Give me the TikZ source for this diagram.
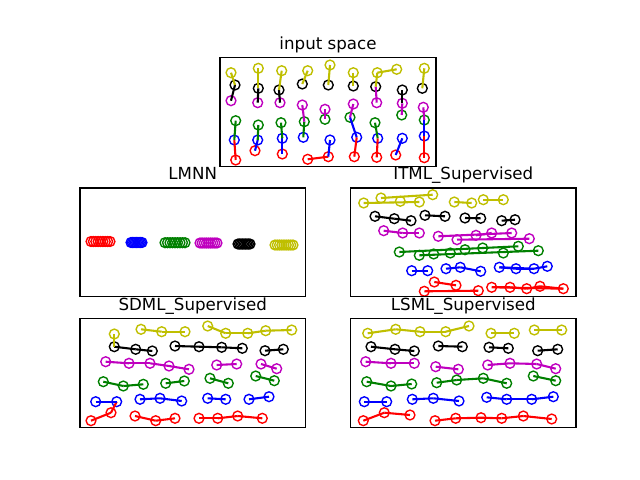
\documentclass[tikz,border=0pt]{standalone}
\usepackage{fontspec}
\setmainfont{DejaVu Sans}
\definecolor{cr}{rgb}{1,0,0}
\definecolor{cb}{rgb}{0,0,1}
\definecolor{cg}{rgb}{0,0.5,0}
\definecolor{cm}{rgb}{0.75,0,0.75}
\definecolor{ck}{rgb}{0,0,0}
\definecolor{cy}{rgb}{0.75,0.75,0}
\begin{document}
\begin{tikzpicture}[x=0.72pt,y=-0.72pt,
  pt/.style={circle,draw=#1,line width=1pt,minimum size=7.07pt,inner sep=0pt,outer sep=0pt},
  ln/.style={line width=1.5pt,draw=#1},
  axframe/.style={draw=black,line width=0.8pt},
  ttl/.style={anchor=base,font=\fontsize{12}{14}\selectfont}]
\path[use as bounding box] (0,0) rectangle (640,480);

% ---------------- input space ----------------
\foreach \n/\x/\y in {iY1/231/72.7,iY2/258.3/68.3,iY3/281.7/70.7,iY4/307.7/70.7,iY5/330/65,iY6/353.3/72.7,iY7/377.3/72.7,iY8/396.7/69.3,iY9/424.3/68.3}
  \node[pt=cy] (\n) at (\x,\y) {};
\foreach \n/\x/\y in {iK1/235/85,iK2/258.3/88.3,iK3/279/90,iK4/302.3/84,iK5/328.3/85,iK6/353.3/86,iK7/375.7/86.7,iK8/402.3/90,iK9/422.3/88.3}
  \node[pt=ck] (\n) at (\x,\y) {};
\foreach \n/\x/\y in {iM1/231/100.7,iM2/257.7/102.7,iM3/280/102.7,iM4/302.3/105,iM5/325/109.3,iM6/353.3/104,iM7/376.7/102.7,iM8/402.3/103.3,iM9/423.3/107.3}
  \node[pt=cm] (\n) at (\x,\y) {};
\foreach \n/\x/\y in {iG1/235.7/120.7,iG2/258.3/125,iG3/281/122.7,iG4/304.3/121.7,iG5/325/119.3,iG6/350/117.3,iG7/375/122.7,iG8/401.7/115,iG9/424.3/120}
  \node[pt=cg] (\n) at (\x,\y) {};
\foreach \n/\x/\y in {iB1/234.3/140,iB2/257.7/140,iB3/282.3/138.3,iB4/303.3/137.3,iB5/330/140,iB6/356.7/137.3,iB7/377.7/138.3,iB8/402.3/138.3,iB9/424.3/136}
  \node[pt=cb] (\n) at (\x,\y) {};
\foreach \n/\x/\y in {iR1/235.7/160,iR2/255/150.7,iR3/282.3/154,iR4/307.7/159.3,iR5/328.3/156.7,iR6/354.3/156.7,iR7/376.7/157.3,iR8/395.7/155,iR9/424.3/157.7}
  \node[pt=cr] (\n) at (\x,\y) {};
\foreach \a/\b in {iR1/iB1,iR4/iR5,iR6/iB6,iR7/iB7,iR9/iB9} \draw[ln=cr] (\a.center) -- (\b.center);
\foreach \a/\b in {iB2/iR2,iB3/iR3,iB5/iR5,iB8/iR8,iB6/iG6,iB9/iG9} \draw[ln=cb] (\a.center) -- (\b.center);
\foreach \a/\b in {iG1/iB1,iG2/iB2,iG3/iB3,iG4/iB4,iG7/iB7} \draw[ln=cg] (\a.center) -- (\b.center);
\foreach \a/\b in {iM4/iG4,iM5/iG5,iM6/iG6,iM7/iK7,iM8/iG8,iM9/iG9} \draw[ln=cm] (\a.center) -- (\b.center);
\foreach \a/\b in {iK1/iM1,iK2/iM2,iK3/iM3,iK8/iM8} \draw[ln=ck] (\a.center) -- (\b.center);
\foreach \a/\b in {iY1/iK1,iY2/iK2,iY3/iK3,iY4/iK4,iY5/iK5,iY6/iK6,iY7/iK7,iY7/iY8,iY9/iK9} \draw[ln=cy] (\a.center) -- (\b.center);
\draw[axframe] (220,57.6) rectangle (436,166.3);
\node[ttl] (t1) at (328,49.3) {input space};

% ---------------- LMNN ----------------
\foreach \k in {0,...,8} {
  \node[pt=cr] (lR\k) at ({91+\k*19/8},241.5) {};
  \node[pt=cb] (lB\k) at ({131+\k*11/8},242.5) {};
  \node[pt=cg] (lG\k) at ({165+\k*20/8},242.7) {};
  \node[pt=cm] (lM\k) at ({200+\k*17/8},243) {};
  \node[pt=ck] (lK\k) at ({238+\k*12/8},244) {};
  \node[pt=cy] (lY\k) at ({275+\k*18/8},245) {};
}
\draw[axframe] (80,188.05) rectangle (305.45,296.8);
\node[ttl] (t2) at (192.7,179.7) {LMNN};

% ---------------- ITML ----------------
\foreach \n/\x/\y in {tY1/363.7/203,tY2/381/198,tY3/400.3/201.3,tY4/419.3/202,tY5/432.7/194.7,tY6/454.3/202,tY7/471.7/203,tY8/483.3/199.7,tY9/503.3/199.7}
  \node[pt=cy] (\n) at (\x,\y) {};
\foreach \n/\x/\y in {tK1/375/216.3,tK2/394.3/218.7,tK3/411/220.7,tK4/425/215.3,tK5/445/216.3,tK6/465/218,tK7/480.7/218.3,tK8/501.7/220.7,tK9/515/219.7}
  \node[pt=ck] (\n) at (\x,\y) {};
\foreach \n/\x/\y in {tM1/383.7/230.7,tM2/402.7/233,tM3/419.3/233,tM4/438.3/236.3,tM5/457/239.7,tM6/476/235.3,tM7/491.7/233,tM8/511.7/233,tM9/529.3/238.7}
  \node[pt=cm] (\n) at (\x,\y) {};
\foreach \n/\x/\y in {tG1/399.3/252,tG2/419.3/255.3,tG3/433.7/254,tG4/450.3/253,tG5/465/249.7,tG6/482.7/248,tG7/503.3/253,tG8/518.3/246.3,tG9/538.3/250.7}
  \node[pt=cg] (\n) at (\x,\y) {};
\foreach \n/\x/\y in {tB1/411.7/270.7,tB2/427.7/270.7,tB3/446/268.7,tB4/460.3/267.3,tB5/480.7/271.3,tB6/499.3/267.3,tB7/516/268.7,tB8/534/268.7,tB9/547.3/266.3}
  \node[pt=cb] (\n) at (\x,\y) {};
\foreach \n/\x/\y in {tR1/434.3/282,tR2/456/285.3,tR3/424.3/291.3,tR4/478.3/290.7,tR5/491.7/287.3,tR6/510/287.3,tR7/526.7/288.7,tR8/540/286.3,tR9/563.3/288.7}
  \node[pt=cr] (\n) at (\x,\y) {};
\foreach \a/\b in {tR1/tR2,tR3/tR4,tR5/tR6,tR6/tR7,tR7/tR8,tR8/tR9,tR5/tR9} \draw[ln=cr] (\a.center) -- (\b.center);
\foreach \a/\b in {tB1/tB2,tB3/tB4,tB4/tB5,tB6/tB7,tB7/tB8,tB8/tB9,tB6/tB8} \draw[ln=cb] (\a.center) -- (\b.center);
\foreach \a/\b in {tG1/tG8,tG2/tG9} \draw[ln=cg] (\a.center) -- (\b.center);
\foreach \a/\b in {tM1/tM2,tM2/tM3,tM4/tM8,tM5/tM9,tM6/tM7} \draw[ln=cm] (\a.center) -- (\b.center);
\foreach \a/\b in {tK1/tK2,tK2/tK3,tK4/tK5,tK6/tK7,tK8/tK9} \draw[ln=ck] (\a.center) -- (\b.center);
\foreach \a/\b in {tY1/tY4,tY2/tY5,tY6/tY7,tY8/tY9} \draw[ln=cy] (\a.center) -- (\b.center);
\draw[axframe] (350.55,188.05) rectangle (576,296.8);
\node[ttl] (t3) at (463.3,179.7) {ITML\_Supervised};

% ---------------- SDML ----------------
\foreach \n/\x/\y in {sY1/114.3/334,sY2/141/329.3,sY3/161.7/331.7,sY4/185/331.7,sY5/207.7/326,sY6/225.7/333.3,sY7/247.7/333.3,sY8/265.7/330.7,sY9/291.7/330}
  \node[pt=cy] (\n) at (\x,\y) {};
\foreach \n/\x/\y in {sK1/114.3/346.7,sK2/135.7/349.3,sK3/152.3/351,sK4/175/346,sK5/199/346.7,sK6/221.7/347.3,sK7/242.3/348.3,sK8/265/350.7,sK9/283.3/349.3}
  \node[pt=ck] (\n) at (\x,\y) {};
\foreach \n/\x/\y in {sM1/105.7/361.7,sM2/129/363.3,sM3/150/363.3,sM4/169/366,sM5/189/369.3,sM6/216.7/365,sM7/236.7/364,sM8/261/364,sM9/276.7/368.7}
  \node[pt=cm] (\n) at (\x,\y) {};
\foreach \n/\x/\y in {sG1/103.3/381.7,sG2/123.3/386,sG3/143.3/384.3,sG4/165.7/383.3,sG5/184.3/381,sG6/210/378.3,sG7/228.3/383.3,sG8/255.7/376,sG9/274.3/380.7}
  \node[pt=cg] (\n) at (\x,\y) {};
\foreach \n/\x/\y in {sB1/95.7/401.7,sB2/116.7/401.7,sB3/140/399.3,sB4/160/398.3,sB5/181.7/401,sB6/207.7/398.3,sB7/225.7/399.3,sB8/249/399.3,sB9/269/396.7}
  \node[pt=cb] (\n) at (\x,\y) {};
\foreach \n/\x/\y in {sR1/91/420.7,sR2/111/412.7,sR3/135/416,sR4/155.7/420.7,sR5/175/418.3,sR6/199/418.3,sR7/217.7/418.3,sR8/237.7/416,sR9/262.3/418.3}
  \node[pt=cr] (\n) at (\x,\y) {};
\foreach \a/\b in {sR1/sR2,sR2/sB2,sR3/sR4,sR4/sR5,sR6/sR7,sR7/sR8,sR8/sR9} \draw[ln=cr] (\a.center) -- (\b.center);
\foreach \a/\b in {sB1/sB2,sB3/sB4,sB4/sB5,sB6/sB7,sB8/sB9} \draw[ln=cb] (\a.center) -- (\b.center);
\foreach \a/\b in {sG1/sG2,sG2/sG3,sG4/sG5,sG6/sG7,sG8/sG9} \draw[ln=cg] (\a.center) -- (\b.center);
\foreach \a/\b in {sM1/sM2,sM2/sM3,sM3/sM4,sM4/sM5,sM6/sM7,sM8/sM9} \draw[ln=cm] (\a.center) -- (\b.center);
\foreach \a/\b in {sK1/sK2,sK2/sK3,sK4/sK5,sK5/sK6,sK6/sK7,sK8/sK9} \draw[ln=ck] (\a.center) -- (\b.center);
\foreach \a/\b in {sY1/sK1,sY2/sY3,sY3/sY4,sY5/sY6,sY6/sY7,sY7/sY8,sY8/sY9} \draw[ln=cy] (\a.center) -- (\b.center);
\draw[axframe] (80,318.5) rectangle (305.45,427.2);
\node[ttl] (t4) at (192.7,310.2) {SDML\_Supervised};

% ---------------- LSML ----------------
\foreach \n/\x/\y in {qY1/367.7/333.3,qY2/395.7/329.3,qY3/420/331.7,qY4/445.7/331.7,qY5/469/326,qY6/491/333.3,qY7/514.3/333.3,qY8/534.3/330,qY9/561.7/330}
  \node[pt=cy] (\n) at (\x,\y) {};
\foreach \n/\x/\y in {qK1/371/346.7,qK2/395/349.3,qK3/414.3/351,qK4/438.3/346,qK5/462.3/346.7,qK6/489/347.3,qK7/508.3/348.3,qK8/537.7/350.7,qK9/557.7/349.3}
  \node[pt=ck] (\n) at (\x,\y) {};
\foreach \n/\x/\y in {qM1/365.7/361.7,qM2/391/363.3,qM3/414.3/363.3,qM4/435.7/366.7,qM5/458.3/369.3,qM6/487.7/365,qM7/510/363.3,qM8/536.7/364,qM9/555.7/368.7}
  \node[pt=cm] (\n) at (\x,\y) {};
\foreach \n/\x/\y in {qG1/366.7/381.7,qG2/391/386,qG3/411.7/384,qG4/436.7/382.7,qG5/456.7/380,qG6/483.3/378.3,qG7/506.7/383.3,qG8/533.3/376,qG9/555.7/380.7}
  \node[pt=cg] (\n) at (\x,\y) {};
\foreach \n/\x/\y in {qB1/364.3/401.7,qB2/386.7/401.7,qB3/412.3/399.3,qB4/433.3/398.3,qB5/459/401,qB6/486.7/397.3,qB7/506.7/399.3,qB8/531.7/399.3,qB9/553.3/396.7}
  \node[pt=cb] (\n) at (\x,\y) {};
\foreach \n/\x/\y in {qR1/363.3/420.7,qR2/384.3/412.7,qR3/410/415,qR4/435/420.7,qR5/455.7/418.3,qR6/481/417.7,qR7/501.7/418.3,qR8/523.3/416,qR9/551.7/419}
  \node[pt=cr] (\n) at (\x,\y) {};
\foreach \a/\b in {qR1/qR2,qR2/qR3,qR4/qR5,qR5/qR6,qR6/qR7,qR7/qR8,qR8/qR9} \draw[ln=cr] (\a.center) -- (\b.center);
\foreach \a/\b in {qB1/qB2,qB3/qB4,qB4/qB5,qB6/qB7,qB7/qB8,qB8/qB9} \draw[ln=cb] (\a.center) -- (\b.center);
\foreach \a/\b in {qG1/qG2,qG2/qG3,qG4/qG5,qG5/qG6,qG6/qG7,qG8/qG9} \draw[ln=cg] (\a.center) -- (\b.center);
\foreach \a/\b in {qM1/qM2,qM2/qM3,qM4/qM5,qM6/qM7,qM7/qM8,qM8/qM9} \draw[ln=cm] (\a.center) -- (\b.center);
\foreach \a/\b in {qK1/qK2,qK2/qK3,qK4/qK5,qK6/qK7,qK8/qK9} \draw[ln=ck] (\a.center) -- (\b.center);
\foreach \a/\b in {qY1/qY2,qY2/qY3,qY3/qY4,qY4/qY5,qY6/qY7,qY8/qY9} \draw[ln=cy] (\a.center) -- (\b.center);
\draw[axframe] (350.55,318.5) rectangle (576,427.2);
\node[ttl] (t5) at (463.3,310.2) {LSML\_Supervised};
\end{tikzpicture}
\end{document}
